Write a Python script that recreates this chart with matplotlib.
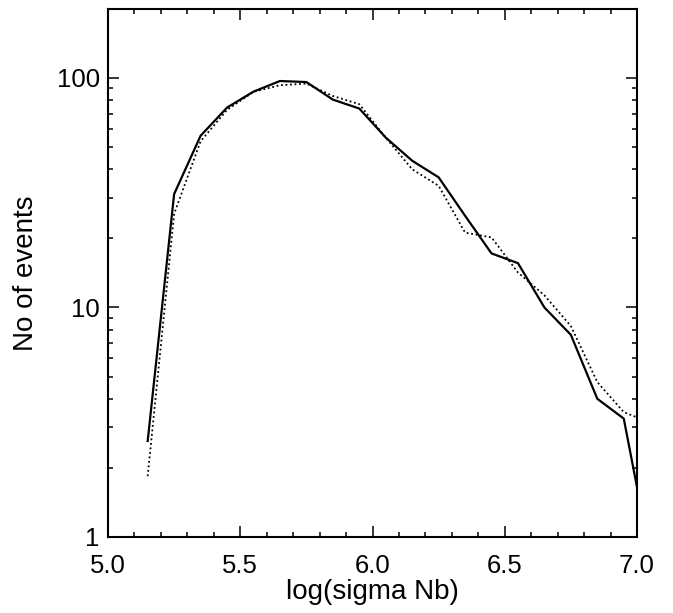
import matplotlib
matplotlib.use("Agg")
import matplotlib.pyplot as plt
from matplotlib.ticker import FixedLocator, LogLocator, NullFormatter, FixedFormatter

plt.rcParams['font.family'] = ['Liberation Sans', 'DejaVu Sans']

# bin centres in log(sigma Nb)
log_sigma = [5.15, 5.25, 5.35, 5.45, 5.55, 5.65, 5.75, 5.85, 5.95, 6.05,
             6.15, 6.25, 6.35, 6.45, 6.55, 6.65, 6.75, 6.85, 6.95, 7.05]

# solid curve
events_solid = [2.62, 31.2, 56.0, 74.3, 87.2, 97.0, 96.0, 80.5, 73.6, 55.0,
                43.6, 36.9, 25.1, 17.2, 15.6, 10.0, 7.6, 4.0, 3.28, 0.83]

# dotted curve
events_dotted = [1.84, 25.6, 53.0, 72.6, 87.0, 93.0, 94.5, 83.5, 76.9, 55.0,
                 40.0, 33.9, 21.2, 20.2, 14.2, 11.3, 8.3, 4.73, 3.5, 3.15]

fig = plt.figure(figsize=(6.73, 6.13), dpi=100)
ax = fig.add_axes([0.1605, 0.124, 0.786, 0.8615])

ax.plot(log_sigma, events_solid, color='black', lw=1.6)
ax.plot(log_sigma, events_dotted, color='black', lw=1.3, linestyle=(0, (1, 1.5)))

ax.set_yscale('log')
ax.set_xlim(5.0, 7.0)
ax.set_ylim(1, 200)

ax.xaxis.set_major_locator(FixedLocator([5.0, 5.5, 6.0, 6.5, 7.0]))
ax.xaxis.set_major_formatter(FixedFormatter(['5.0', '5.5', '6.0', '6.5', '7.0']))
ax.xaxis.set_minor_locator(FixedLocator([5.1, 5.2, 5.3, 5.4, 5.6, 5.7, 5.8, 5.9,
                                         6.1, 6.2, 6.3, 6.4, 6.6, 6.7, 6.8, 6.9]))
ax.yaxis.set_major_locator(FixedLocator([1, 10, 100]))
ax.yaxis.set_major_formatter(FixedFormatter(['1', '10', '100']))
ax.yaxis.set_minor_locator(LogLocator(base=10, subs=range(2, 10)))
ax.yaxis.set_minor_formatter(NullFormatter())

ax.tick_params(which='both', direction='in', top=True, right=True,
               width=1.1, labelsize=18.5, colors='black')
ax.tick_params(which='major', length=8)
ax.tick_params(which='minor', length=3.5)
ax.tick_params(axis='x', which='major', pad=12)
ax.tick_params(axis='y', which='major', pad=6)

for s in ax.spines.values():
    s.set_linewidth(1.5)

ax.set_xlabel('log(sigma Nb)', fontsize=20, labelpad=1)
ax.set_ylabel('No of events', fontsize=20, labelpad=13)

fig.savefig('out.png', dpi=100)
